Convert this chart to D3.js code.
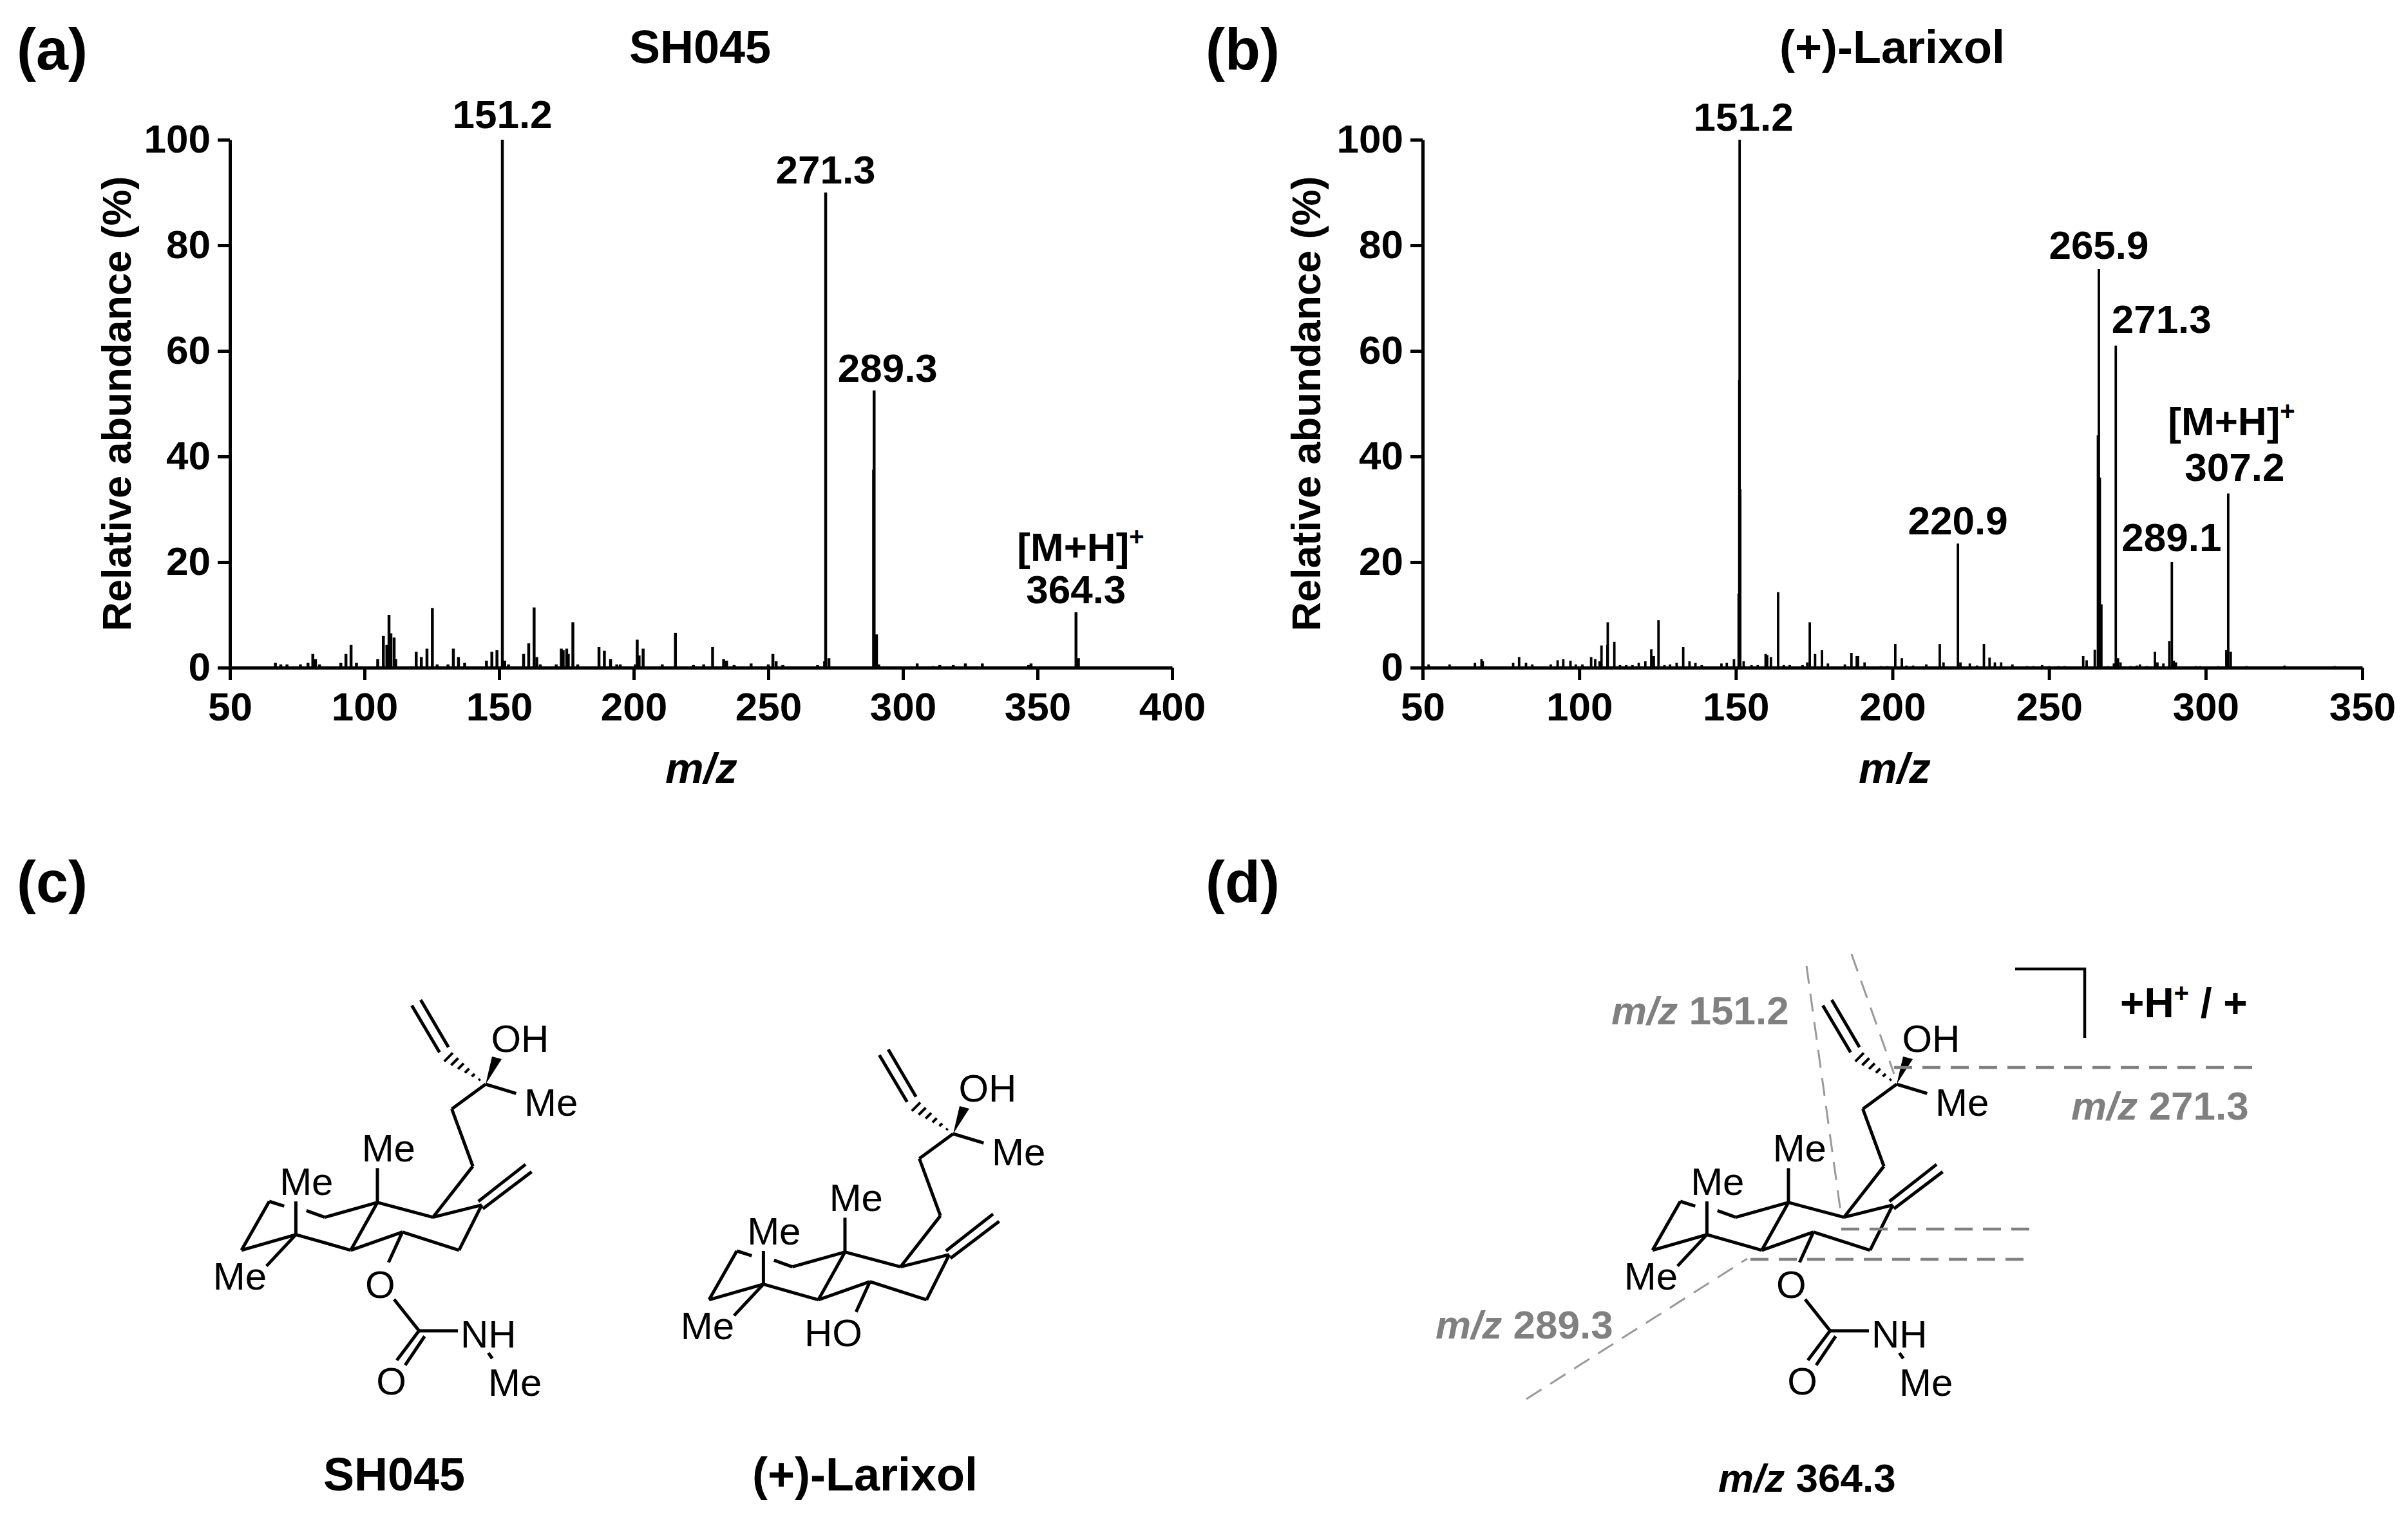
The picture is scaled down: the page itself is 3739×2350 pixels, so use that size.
<!DOCTYPE html>
<html lang="en">
<head>
    <meta charset="UTF-8">
    <title>SH045 and Larixol mass spectra</title>
    <script src="https://d3js.org/d3.v7.min.js"></script>
    <style>
        html, body { margin: 0; padding: 0; background: #fff; }
        svg { display: block; }
        text { font-family: "Liberation Sans", Arial, sans-serif; fill: #000; }
        .bold { font-weight: bold; }
        .axis path, .axis line { stroke: #000; stroke-width: 5px; }
        .axis text { font-size: 62px; font-weight: bold; }
        .peak { stroke: #000; stroke-width: 4.5px; }
        .peak-thin { stroke: #000; stroke-width: 3.8px; }
        .bond { stroke: #000; stroke-width: 5px; fill: none; }
        .atom { font-size: 60px; }
        .grey { fill: #808080; }
    </style>
</head>
<body>
    <svg width="3739" height="2350"></svg>

    <script>
        // Spectrum (a) SH045
        const mzA = [66.9, 68.9, 71.2, 76.2, 79, 80.8, 81.8, 83.3, 91.2, 93.1, 95, 97, 104.9, 107, 108.3, 109.1, 109.8, 111, 111.6,
            119.2, 121.1, 123.2, 125.2, 127, 131, 133, 134.9, 137.2, 145.3, 147.3, 149.2, 151.2, 152.1, 153.5,
            159.1, 161, 163, 164, 165.3, 171.2, 173.1, 173.8, 175.1, 175.7, 177.4, 179.2, 187.1, 189.1, 191.4, 193.7, 195, 200.6, 201.3, 202, 203.5,
            210.6, 215.5, 222.2, 226, 229.3, 233.4, 234.5, 237.3, 243.6, 250, 251.7, 252.9, 255.4, 268.3, 270.9, 271.3, 272.5,
            289.1, 289.3, 290.2, 291, 305.3, 311.2, 313.7, 318.7, 323.2, 329.5, 346.7, 347.6, 364.3, 365.2];
        const abundanceA = [0.9, 0.6, 0.6, 0.6, 0.9, 2.6, 1.6, 0.6, 0.9, 2.6, 4.3, 0.9, 1.6, 6, 4.3, 10, 6.5, 5.7, 1.6,
            3, 2, 3.6, 11.3, 0.6, 0.6, 3.6, 2, 0.9, 1.3, 3, 3.3, 100, 1.3, 0.6,
            2.6, 4.6, 11.4, 2, 0.6, 0.6, 3.6, 3.3, 3.6, 2.6, 8.6, 0.6, 3.9, 3.2, 1.6, 0.6, 0.6, 0.6, 5.3, 2.3, 3.6,
            0.6, 6.6, 0.5, 0.6, 3.9, 1.6, 1.3, 0.5, 0.8, 0.6, 2.6, 1.2, 0.5, 0.5, 1.2, 90, 1.8,
            37.5, 52.5, 6.3, 0.6, 0.8, 0.3, 0.5, 0.5, 0.8, 0.8, 0.5, 0.8, 10.5, 1.8];
        const peakLabelMzA = [151.2, 271.3, 289.3, 364.3];
        const peakLabelValA = [100, 90, 52.5, 10.5];
        const peakLabelTextA = ["151.2", "271.3", "289.3", "364.3"];

        // Spectrum (b) (+)-Larixol
        const mzB = [51.9, 58.6, 66.7, 68.8, 69.2, 78.9, 80.8, 83, 85, 90.9, 93.1, 94.9, 97.2, 98.9, 101, 103.8, 105.1, 106.5, 107.1, 109, 109.1, 111.2,
            113, 115, 117, 119, 121.1, 123, 123.8, 125.3, 127.2, 129, 131.1, 133.2, 135.2, 137.1, 139.1, 145.4, 147.1, 149.4,
            150.9, 151.1, 151.2, 151.4, 152.5, 155, 157, 159.5, 160, 161.2, 163.5, 165.3, 167.2, 171.3, 172.8, 173.6, 175.3, 177.5, 179.4,
            184.8, 186.9, 188.6, 189, 191.1, 196.3, 198.4, 200.9, 203, 204.5, 206.6, 210.8, 215.1, 216.3, 220.9, 221.7, 224.7, 227, 229.2, 231, 232.7, 234.7, 238.3,
            243, 245, 247.8, 250, 253, 255, 260.9, 262, 264.6, 265.6, 265.9, 266.2, 266.7, 268.8, 270.7, 271.3, 272, 272.8, 276, 278, 279, 281.2, 283.8, 284.6, 286.5,
            288.4, 289.2, 289.8, 290.5, 296.9, 298.2, 304, 306.6, 307.2, 308, 313, 325.2, 329.4, 341.2];
        const abundanceB = [0.6, 0.6, 0.9, 1.6, 1.2, 0.9, 2, 0.9, 0.6, 0.6, 1.4, 1.6, 1.3, 0.6, 0.6, 2, 1.6, 1.2, 4.2, 4.3, 8.6, 4.9,
            0.5, 0.5, 0.5, 0.9, 1.2, 3.5, 2.2, 9, 0.5, 0.6, 0.9, 3.9, 1.2, 0.9, 0.5, 0.8, 0.9, 1.6,
            14, 54.5, 100, 33.8, 1.2, 0.5, 0.5, 2.6, 2.4, 2, 14.3, 0.5, 0.5, 0.5, 1, 8.6, 2.6, 3.3, 0.8,
            0.6, 2.8, 2.2, 2.2, 1, 0.3, 0.3, 4.5, 1.8, 0.4, 0.4, 0.6, 4.5, 1, 23.5, 1, 0.8, 0.4, 4.5, 1.9, 1, 1, 0.6,
            0.3, 0.3, 0.5, 0.3, 0.3, 0.3, 2.2, 1.4, 3.4, 44, 75.5, 36, 12, 0.3, 0.8, 61, 1.8, 1, 0.3, 0.4, 0.6, 0.3, 3, 1, 0.8,
            5, 20, 1.3, 1, 0.3, 0.3, 0.3, 3.3, 33, 3, 0.3, 0.4, 0.2, 0.3];
        const peakLabelMzB = [151.2, 220.9, 265.9, 271.3, 289.1, 307.2];
        const peakLabelValB = [100, 23.5, 75.5, 61, 20, 33];
        const peakLabelTextB = ["151.2", "220.9", "265.9", "271.3", "289.1", "307.2"];

        const yTicks = [0, 20, 40, 60, 80, 100];
        const xTicksA = [50, 100, 150, 200, 250, 300, 350, 400];
        const xTicksB = [50, 100, 150, 200, 250, 300, 350];

        // Shared molecule skeleton, bonds as x1,y1,x2,y2 from the C bearing the OH
        const skeletonBonds = [
            [-114.6, -122.3, -71.5, -49.4], [-100.8, -130.9, -57.7, -57.4],
            [0, 0, 47.4, 14.4], [0, 0, -52.5, 38.5], [-52.5, 38.5, -19.8, 127.4], [-19.8, 127.4, -81.8, 206.7],
            [-81.8, 206.7, -6, 187.7], [-6, 187.7, -41.3, 257.8], [-41.3, 257.8, -129.2, 229.6], [-129.2, 229.6, -209.3, 257.8],
            [-209.3, 257.8, -168, 183.7], [-168, 183.7, -81.8, 206.7], [-168, 183.7, -249.8, 206.7], [-249.8, 206.7, -278.2, 196.3],
            [-168, 183.7, -168, 130.3], [-209.3, 257.8, -294.6, 233.6], [-294.6, 233.6, -379, 257.8], [-379, 257.8, -335.9, 182],
            [-335.9, 182, -312.7, 189.4], [-294.6, 233.6, -294.6, 182], [-294.6, 233.6, -340.2, 282.4], [-129.2, 229.6, -150.7, 276.7],
            [-4.3, 193.5, 71.5, 136], [-11.2, 182, 62, 124.6]
        ];
        const carbamateBonds = [
            [-142.1, 334.1, -103.4, 382.9], [-103.4, 382.9, -43, 382.9], [-103.4, 382.9, -137.8, 428.8],
            [-94.7, 391.5, -124.9, 436.3], [4.3, 417.3, 10.3, 426]
        ];
        const skeletonAtoms = [["OH", 53.4, -70.6], ["Me", 101.6, 28.7], ["Me", -150.7, 99.9], ["Me", -278.2, 151.5], ["Me", -381.6, 298.5]];
        const carbamateAtoms = [["O", -163.7, 311.1], ["NH", 4.3, 388.6], ["O", -146.4, 461.5], ["Me", 45.7, 463.3]];
        const larixolAtoms = [["HO", -186, 309]];

        // Fragmentation lines in panel (d)
        const thinCuts = [[2805, 1500, 2859, 1889], [2875, 1482, 2941, 1668], [2370, 2173, 2713, 1955]];
        const thickCuts = [[2859, 1909, 3155, 1909], [2941, 1658, 3499, 1658], [2718, 1956, 3146, 1956]];
        const fragmentLabels = [["151.2", 2502, 1591], ["271.3", 3216, 1739], ["289.3", 2229, 2079]];

        const svg = d3.select("svg");
        const plotHeight = 820;
        const plotTop = 217;

        function drawSpectrum(left, right, xMax, xTicks, mz, abundance, peakClass) {
            const x = d3.scaleLinear().domain([50, xMax]).range([left, right]);
            const y = d3.scaleLinear().domain([0, 100]).range([plotTop + plotHeight, plotTop]);

            svg.append("g").selectAll("line")
                .data(d3.zip(mz, abundance))
                .enter().append("line")
                .attr("class", peakClass)
                .attr("x1", d => x(d[0]))
                .attr("x2", d => x(d[0]))
                .attr("y1", y(0))
                .attr("y2", d => y(d[1]));

            svg.append("g")
                .attr("class", "axis")
                .attr("transform", "translate(0," + y(0) + ")")
                .call(d3.axisBottom(x).tickValues(xTicks).tickSize(19).tickSizeOuter(0).tickPadding(19));

            svg.append("g")
                .attr("class", "axis")
                .attr("transform", "translate(" + left + ",0)")
                .call(d3.axisLeft(y).tickValues(yTicks).tickSize(19).tickSizeOuter(0).tickPadding(11));

            return { x, y };
        }

        function addText(txt, px, py, size, cls, anchor) {
            return svg.append("text")
                .attr("x", px)
                .attr("y", py)
                .attr("class", cls || "")
                .attr("text-anchor", anchor || "middle")
                .style("font-size", size + "px")
                .text(txt);
        }

        function addYLabel(px) {
            svg.append("text")
                .attr("class", "bold")
                .attr("transform", "translate(" + px + ",627) rotate(-90)")
                .attr("text-anchor", "middle")
                .style("font-size", "63px")
                .text("Relative abundance (%)");
        }

        function addMz(txt, px, py, size, cls) {
            const t = svg.append("text")
                .attr("x", px)
                .attr("y", py)
                .attr("class", "bold " + (cls || ""))
                .style("font-size", size + "px");
            t.append("tspan").style("font-style", "italic").text("m/z");
            if (txt) t.append("tspan").text(" " + txt);
            return t;
        }

        function addIon(px, py) {
            const t = svg.append("text")
                .attr("x", px)
                .attr("y", py)
                .attr("class", "bold")
                .attr("text-anchor", "middle")
                .style("font-size", "62px")
                .text("[M+H]");
            t.append("tspan").attr("dy", -24).style("font-size", "40px").text("+");
        }

        function drawMolecule(ox, oy, bonds, atoms) {
            const g = svg.append("g").attr("transform", "translate(" + ox + "," + oy + ")");
            g.selectAll("line.bond")
                .data(bonds)
                .enter().append("line")
                .attr("class", "bond")
                .attr("x1", d => d[0]).attr("y1", d => d[1])
                .attr("x2", d => d[2]).attr("y2", d => d[3]);
            g.selectAll("text")
                .data(atoms)
                .enter().append("text")
                .attr("class", "atom")
                .attr("x", d => d[1])
                .attr("y", d => d[2])
                .attr("text-anchor", "middle")
                .attr("dominant-baseline", "central")
                .text(d => d[0]);

            // Bold wedge up to the OH
            g.append("path")
                .attr("d", d3.line()([[0, 0], [10, -43], [25, -39]]))
                .attr("fill", "#000");

            // Hashed wedge to the vinyl group, widening away from the stereocentre
            g.selectAll("line.hash")
                .data(d3.range(1, 7))
                .enter().append("line")
                .attr("class", "hash")
                .attr("stroke", "#000")
                .attr("stroke-width", 4)
                .attr("x1", i => -9.6 * i - 1.1 * i)
                .attr("y1", i => -7 * i + 1.1 * i)
                .attr("x2", i => -9.6 * i + 1.1 * i)
                .attr("y2", i => -7 * i - 1.1 * i);
        }

        // Panels (a) and (b)
        const a = drawSpectrum(357, 1820, 400, xTicksA, mzA, abundanceA, "peak");
        const b = drawSpectrum(2209, 3668, 350, xTicksB, mzB, abundanceB, "peak-thin");

        const gapsA = [[0, 18], [0, 14], [21, 14], [0, 14]];
        peakLabelTextA.forEach((t, i) => {
            addText(t, a.x(peakLabelMzA[i]) + gapsA[i][0], a.y(peakLabelValA[i]) - gapsA[i][1], 62, "bold");
        });
        const gapsB = [[6, 14], [0, 14], [0, 16], [71, 20], [0, 17], [10, 19]];
        peakLabelTextB.forEach((t, i) => {
            addText(t, b.x(peakLabelMzB[i]) + gapsB[i][0], b.y(peakLabelValB[i]) - gapsB[i][1], 62, "bold");
        });
        addIon(1678, 871);
        addIon(3465, 676);

        addYLabel(203);
        addYLabel(2050);
        addMz("", 1033, 1216, 67);
        addMz("", 2886, 1216, 67);

        // Titles and panel letters
        addText("SH045", 1087, 98, 72, "bold");
        addText("(+)-Larixol", 2938, 98, 72, "bold");
        addText("(a)", 26, 108, 90, "bold", "start");
        addText("(b)", 1872, 108, 90, "bold", "start");
        addText("(c)", 26, 1401, 90, "bold", "start");
        addText("(d)", 1872, 1401, 90, "bold", "start");

        // Panel (c)
        drawMolecule(754, 1684, skeletonBonds.concat(carbamateBonds), skeletonAtoms.concat(carbamateAtoms));
        drawMolecule(1480, 1761, skeletonBonds, skeletonAtoms.concat(larixolAtoms));
        addText("SH045", 612, 2315, 72, "bold");
        addText("(+)-Larixol", 1343, 2315, 72, "bold");

        // Panel (d)
        drawMolecule(2945, 1684, skeletonBonds.concat(carbamateBonds), skeletonAtoms.concat(carbamateAtoms));

        svg.append("g").selectAll("line")
            .data(thinCuts)
            .enter().append("line")
            .attr("x1", d => d[0]).attr("y1", d => d[1])
            .attr("x2", d => d[2]).attr("y2", d => d[3])
            .attr("stroke", "#999")
            .attr("stroke-width", 3)
            .attr("stroke-dasharray", "28 16");
        svg.append("g").selectAll("line")
            .data(thickCuts)
            .enter().append("line")
            .attr("x1", d => d[0]).attr("y1", d => d[1])
            .attr("x2", d => d[2]).attr("y2", d => d[3])
            .attr("stroke", "#808080")
            .attr("stroke-width", 4.5)
            .attr("stroke-dasharray", "28 16");

        fragmentLabels.forEach(d => addMz(d[0], d[1], d[2], 62, "grey"));
        svg.selectAll("text.grey tspan").classed("grey", true);
        addMz("364.3", 2668, 2317, 62);

        svg.append("path")
            .attr("d", d3.line()([[3129, 1505], [3237, 1505], [3237, 1612]]))
            .attr("class", "bond")
            .style("stroke-width", "4.5px");

        const charge = addText("+H", 3292, 1580, 64, "bold", "start");
        charge.append("tspan").attr("dy", -24).style("font-size", "40px").text("+");
        charge.append("tspan").attr("dy", 24).text(" / +");
    </script>
</body>
</html>
